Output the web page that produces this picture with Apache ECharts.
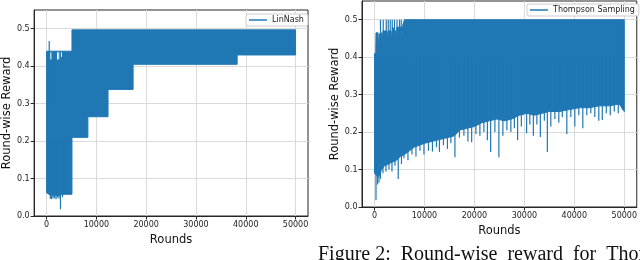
<!DOCTYPE html>
<html><head><meta charset="utf-8">
<script src="https://cdn.jsdelivr.net/npm/echarts@6/dist/echarts.min.js"></script>
<style>html,body{margin:0;padding:0;background:#fff}#c{width:640px;height:260px}</style>
</head><body><div id="c"></div>
<script>
// ---- data ----
const xTicks = [0, 10000, 20000, 30000, 40000, 50000];
const yTicks = [0.0, 0.1, 0.2, 0.3, 0.4, 0.5];
const seriesNames = ['LinNash', 'Thompson Sampling'];

// LinNash: upper and lower envelope of the oscillating reward line
const linUpper = [[0, 0.44], [5100, 0.44], [5100, 0.497], [50000, 0.497]];
const linLower = [[0, 0.062], [700, 0.056], [2600, 0.055], [2900, 0.058], [5100, 0.058],
  [5100, 0.21], [8300, 0.21], [8300, 0.265], [12340, 0.265], [12340, 0.338],
  [17380, 0.338], [17380, 0.405], [38270, 0.405], [38270, 0.43], [50000, 0.43]];
// individual excursions [round, low, high]
const linSpikes = [[530, 0.3, 0.467], [750, 0.046, 0.2], [1000, 0.045, 0.2], [1300, 0.047, 0.2],
  [1600, 0.048, 0.2], [1900, 0.045, 0.2], [2200, 0.049, 0.2], [2500, 0.047, 0.2],
  [2790, 0.018, 0.2], [3200, 0.05, 0.2]];
// uncovered slivers near the top of the early phase [round, low, high]
const linGaps = [[860, 0.418, 0.437], [2190, 0.418, 0.437], [2450, 0.418, 0.437], [3000, 0.425, 0.437]];

// Thompson Sampling envelopes
const tsUpper = [[0, 0.41], [250, 0.41], [300, 0.465], [700, 0.465], [800, 0.425], [950, 0.462],
  [1400, 0.465], [1550, 0.44], [1700, 0.47], [2400, 0.47], [2550, 0.445], [2700, 0.47],
  [3300, 0.47], [3450, 0.445], [3600, 0.48], [4200, 0.47], [4350, 0.45], [4500, 0.48],
  [5400, 0.48], [5500, 0.445], [5650, 0.485], [6000, 0.5], [50000, 0.5]];
const tsLower = [[0, 0.09], [400, 0.085], [700, 0.08], [1000, 0.085], [1400, 0.1], [2000, 0.11],
  [2800, 0.115], [3600, 0.12], [4400, 0.125], [5200, 0.135], [6000, 0.14], [7000, 0.15],
  [8000, 0.16], [9000, 0.165], [10000, 0.17], [11500, 0.175], [13000, 0.18], [14500, 0.185],
  [16000, 0.19], [17000, 0.205], [18500, 0.21], [20000, 0.215], [21500, 0.225], [23000, 0.23],
  [24500, 0.235], [26000, 0.23], [27500, 0.235], [29000, 0.245], [30500, 0.25], [32000, 0.245],
  [33500, 0.25], [35000, 0.255], [37000, 0.255], [39000, 0.26], [41000, 0.265], [43000, 0.265],
  [45000, 0.27], [47000, 0.27], [49000, 0.275], [50000, 0.255]];
const tsSpikes = [[300, 0.018, 0.4], [600, 0.06, 0.4], [900, 0.065, 0.4], [1200, 0.075, 0.4],
  [1700, 0.09, 0.4], [2300, 0.095, 0.4], [2900, 0.1, 0.4], [3500, 0.095, 0.4], [4100, 0.11, 0.4],
  [4750, 0.075, 0.4], [5400, 0.115, 0.4], [5900, 0.13, 0.4], [6700, 0.125, 0.4], [7500, 0.14, 0.4],
  [8300, 0.135, 0.4], [9100, 0.15, 0.4], [9900, 0.14, 0.4], [10800, 0.15, 0.4], [11600, 0.148, 0.4],
  [12400, 0.16, 0.4], [13000, 0.147, 0.4], [13800, 0.165, 0.4], [14600, 0.155, 0.4], [15300, 0.17, 0.4],
  [16100, 0.133, 0.4], [17000, 0.185, 0.4], [17900, 0.19, 0.4], [18700, 0.175, 0.4], [19450, 0.173, 0.4],
  [20300, 0.195, 0.4], [21100, 0.19, 0.4], [21900, 0.2, 0.4], [22600, 0.178, 0.4], [23250, 0.147, 0.4],
  [24100, 0.2, 0.4], [24900, 0.133, 0.4], [25700, 0.19, 0.4], [26500, 0.205, 0.4], [27300, 0.2, 0.4],
  [28000, 0.21, 0.4], [28650, 0.178, 0.4], [29400, 0.215, 0.4], [30450, 0.197, 0.4], [31100, 0.22, 0.4],
  [31800, 0.19, 0.4], [32500, 0.22, 0.4], [33200, 0.187, 0.4], [34000, 0.23, 0.4], [34600, 0.147, 0.4],
  [35300, 0.215, 0.4], [36100, 0.235, 0.4], [36900, 0.225, 0.4], [37600, 0.24, 0.4], [38500, 0.195, 0.4],
  [39300, 0.24, 0.4], [40100, 0.215, 0.4], [40900, 0.245, 0.4], [41700, 0.21, 0.4], [42500, 0.245, 0.4],
  [43300, 0.25, 0.4], [44100, 0.24, 0.4], [44900, 0.23, 0.4], [45600, 0.232, 0.4], [46400, 0.25, 0.4],
  [47200, 0.245, 0.4], [48000, 0.255, 0.4], [48800, 0.25, 0.4], [49600, 0.26, 0.4],
  [1200, 0.45, 0.5], [1750, 0.45, 0.5], [2350, 0.45, 0.5], [2750, 0.46, 0.5], [3150, 0.46, 0.5],
  [3550, 0.46, 0.5], [4000, 0.46, 0.5], [4500, 0.47, 0.5], [5000, 0.47, 0.5], [5350, 0.47, 0.5]];

// ---- chart ----
const BLUE = '#1f77b4';
const FRAME = '#262626';
const FONT = 'DejaVu Sans';

function band(name, idx, upper, lower) {
  return {
    type: 'custom', name, xAxisIndex: idx, yAxisIndex: idx, silent: true,
    data: [upper[0]], itemStyle: { color: BLUE }, z: 3,
    renderItem(params, api) {
      const pts = upper.map(p => api.coord(p)).concat(lower.slice().reverse().map(p => api.coord(p)));
      return { type: 'polygon', shape: { points: pts }, style: { fill: BLUE, stroke: BLUE, lineWidth: 1 } };
    }
  };
}
function strokes(name, idx, data, color, w) {
  return {
    type: 'custom', name, xAxisIndex: idx, yAxisIndex: idx, silent: true,
    data, encode: { x: 0, y: [1, 2] }, itemStyle: { color: BLUE }, z: 4,
    renderItem(params, api) {
      const a = api.coord([api.value(0), api.value(1)]);
      const b = api.coord([api.value(0), api.value(2)]);
      return { type: 'line', shape: { x1: a[0], y1: a[1], x2: b[0], y2: b[1] }, style: { stroke: color, lineWidth: w } };
    }
  };
}
function xAx(idx, gap) {
  return {
    type: 'value', gridIndex: idx, min: -2500, max: 52500,
    name: 'Rounds', nameLocation: 'middle', nameGap: gap,
    nameTextStyle: { fontFamily: FONT, fontSize: 11.5, color: '#111' },
    axisLine: { show: true, onZero: false, lineStyle: { color: FRAME, width: 1 } },
    axisTick: { show: true, length: 3.5, lineStyle: { color: FRAME }, customValues: xTicks },
    axisLabel: { fontFamily: FONT, fontSize: 8, color: '#222', margin: 5, customValues: xTicks,
      formatter: v => String(v) },
    splitLine: { show: true, lineStyle: { color: '#dadada', width: 1 } }
  };
}
function yAx(idx) {
  return {
    type: 'value', gridIndex: idx, min: 0, max: 0.55,
    name: 'Round-wise Reward', nameLocation: 'middle', nameGap: 20,
    nameTextStyle: { fontFamily: FONT, fontSize: 11.5, color: '#111' },
    axisLine: { show: true, onZero: false, lineStyle: { color: FRAME, width: 1 } },
    axisTick: { show: true, length: 3.5, lineStyle: { color: FRAME }, customValues: yTicks },
    axisLabel: { fontFamily: FONT, fontSize: 8, color: '#222', margin: 4.5, customValues: yTicks,
      formatter: v => v.toFixed(1) },
    splitLine: { show: true, lineStyle: { color: '#dadada', width: 1 } }
  };
}
function leg(name, left, top) {
  return {
    data: [{ name, icon: 'rect' }], left, top, itemWidth: 18, itemHeight: 1.5, itemGap: 0,
    textStyle: { fontFamily: FONT, fontSize: 8, color: '#222' },
    borderColor: '#cccccc', borderWidth: 1, borderRadius: 2, padding: [2, 4, 2, 3],
    backgroundColor: '#ffffff', selectedMode: false
  };
}

const chart = echarts.init(document.getElementById('c'), null, { renderer: 'canvas' });
chart.setOption({
  animation: false,
  backgroundColor: '#ffffff',
  grid: [
    { left: 32, top: 10, width: 276, height: 206, show: true, borderColor: FRAME, borderWidth: 1, backgroundColor: 'transparent' },
    { left: 362, top: 1, width: 277, height: 206, show: true, borderColor: FRAME, borderWidth: 1, backgroundColor: 'transparent' }
  ],
  xAxis: [xAx(0, 14.5), xAx(1, 14)],
  yAxis: [yAx(0), yAx(1)],
  legend: [leg(seriesNames[0], 246, 14), leg(seriesNames[1], 527, 4)],
  series: [
    band(seriesNames[0], 0, linUpper, linLower),
    strokes(seriesNames[0], 0, linSpikes, BLUE, 1.2),
    strokes('gaps', 0, linGaps, '#ffffff', 1),
    band(seriesNames[1], 1, tsUpper, tsLower),
    strokes(seriesNames[1], 1, tsSpikes, BLUE, 1.2)
  ],
  graphic: [
    { type: 'text', left: 318, top: 245, silent: true,
      style: { text: 'Figure 2:  Round-wise  reward  for  Thompson', fontFamily: 'Liberation Serif', fontSize: 20, fill: '#111' } }
  ]
});
</script></body></html>
